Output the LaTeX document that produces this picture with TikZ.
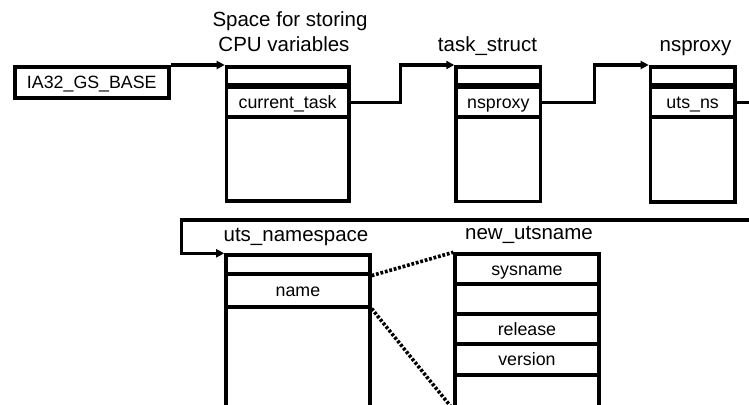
\documentclass[tikz,border=0pt]{standalone}
\usepackage{fontspec}
\setmainfont{Liberation Sans}
\usetikzlibrary{arrows.meta,calc}
\begin{document}
\begin{tikzpicture}[x=1pt,y=-1pt,
  frame/.style={draw,line width=3.6pt,inner sep=0pt,anchor=north west},
  field/.style={frame,font=\fontsize{17.8}{20}\selectfont,text height=12.6pt,text depth=0pt},
  title/.style={anchor=base,inner sep=0pt,font=\fontsize{20.5}{25}\selectfont},
  link/.style={line width=3.2pt,-{Triangle[length=8pt,width=8pt]}},
  ptr/.style={line width=3.6pt,dash pattern=on 2.8pt off 1.8pt}]
\useasboundingbox (0,0) rectangle (749,404);
\clip (0,0) rectangle (749,404);

% MSR holding the per-CPU base
\node[field,minimum width=154,minimum height=31] (gsbase) at (13,65) {IA32\_GS\_BASE};

% per-CPU variable area
\node[frame,minimum width=122.3,minimum height=134] (cpu) at (224.7,65) {};
\node[field,minimum width=122.3,minimum height=17.5] (cpuA) at (224.7,65) {};
\node[field,minimum width=122.3,minimum height=29.8] (cpuB) at (224.7,85.5) {current\_task};
\node[title] (cpuT1) at (290,27) {Space for storing};
\node[title] (cpuT2) at (284,52) {CPU variables};

% task_struct
\node[frame,minimum width=84.4,minimum height=134.5] (task) at (454.3,65) {};
\node[field,minimum width=84.4,minimum height=17.5] (taskA) at (454.3,65) {};
\node[field,minimum width=84.4,minimum height=29.8] (taskB) at (454.3,85.5) {nsproxy};
\node[title] (taskT) at (487.5,52) {task\_struct};

% nsproxy
\node[frame,minimum width=84.3,minimum height=135] (nsp) at (648.7,65) {};
\node[field,minimum width=84.3,minimum height=17.5] (nspA) at (648.7,65) {};
\node[field,minimum width=84.3,minimum height=29.8] (nspB) at (648.7,85.5) {uts\_ns};
\node[title] (nspT) at (695.5,52) {nsproxy};

% uts_namespace
\node[frame,minimum width=143.8,minimum height=152.7] (uts) at (224.2,253.3) {};
\node[field,minimum width=143.8,minimum height=18.7] (utsA) at (224.2,253.3) {};
\node[field,minimum width=143.8,minimum height=33] (utsB) at (224.2,272) {name};
\node[title] (utsT) at (296,241.7) {uts\_namespace};

% new_utsname
\node[frame,minimum width=143.7,minimum height=153.7] (new) at (453.3,252.3) {};
\node[field,minimum width=143.7,minimum height=29.7] (newA) at (453.3,252.3) {sysname};
\node[field,minimum width=143.7,minimum height=30] (newB) at (453.3,282) {};
\node[field,minimum width=143.7,minimum height=30.3] (newC) at (453.3,312) {release};
\node[field,minimum width=143.7,minimum height=31] (newD) at (453.3,342.3) {version};
\node[field,minimum width=143.7,minimum height=32.7] (newE) at (453.3,373.3) {};
\node[title] (newT) at (529,239.3) {new\_utsname};

% pointers
\draw[link] (gsbase.north east) -- (cpu.north west);
\draw[link] (cpuB.east) -| ($(task.north west)+(-53.5,0)$) -- (task.north west);
\draw[link] (taskB.east) -| ($(nsp.north west)+(-54.4,0)$) -- (nsp.north west);
\draw[link] (nspB.east) -- ++(30,0) |- (181.3,220) |- (uts.north west);

% embedded structure
\draw[ptr] (utsA.south east) -- (new.north west);
\draw[ptr] (utsB.south east) -- (newE.south west);
\end{tikzpicture}
\end{document}
